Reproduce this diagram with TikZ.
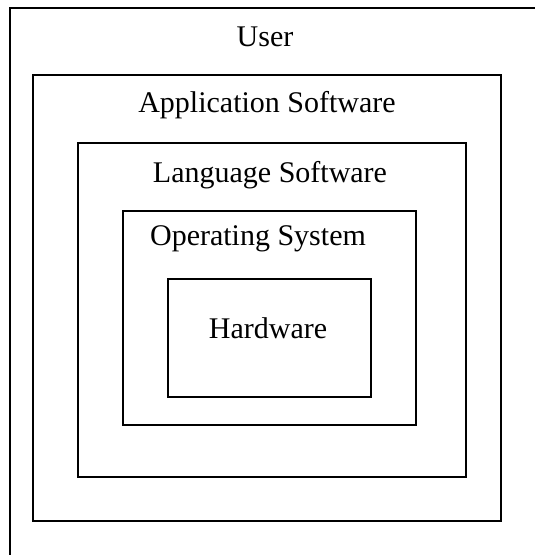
\documentclass[tikz,border=0pt]{standalone}
\usepackage{fontspec}
\setmainfont{Liberation Serif}
\begin{document}
\begin{tikzpicture}[x=1pt,y=-1pt,
  layer/.style={draw=black,line width=1.2pt},
  caption/.style={anchor=base,inner sep=0pt,font=\fontsize{30}{36}\selectfont}]
\useasboundingbox (0,0) rectangle (535,555);
\clip (0,0) rectangle (535,555);
% nested layers, outermost first
\draw[layer] (10,8) rectangle (560,580);
\draw[layer] (33,75) rectangle (501,521);
\draw[layer] (78,143) rectangle (466,477);
\draw[layer] (123,211) rectangle (416,425);
\draw[layer] (168,279) rectangle (371,397);
% layer captions
\node[caption] (user) at (265,46) {User};
\node[caption] (app)  at (267,112) {Application Software};
\node[caption] (lang) at (270,182) {Language Software};
\node[caption] (os)   at (258,245) {Operating System};
\node[caption] (hw)   at (268,338) {Hardware};
\end{tikzpicture}
\end{document}
